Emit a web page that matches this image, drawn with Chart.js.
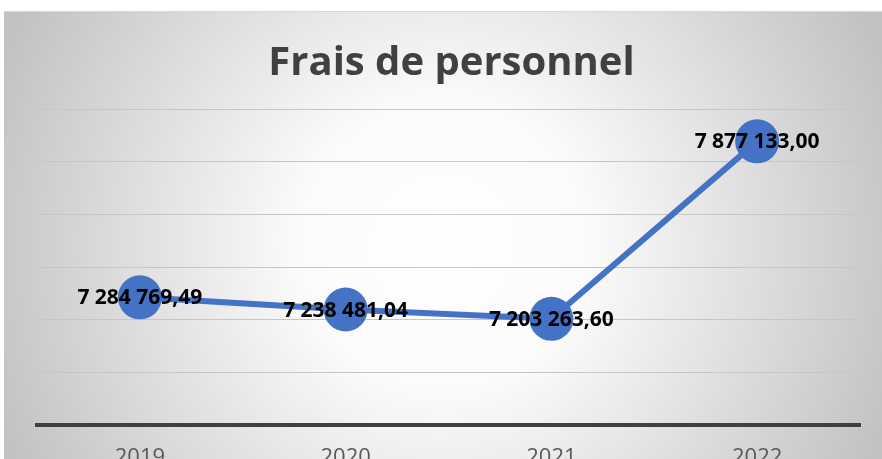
<!DOCTYPE html>
<html lang="fr">
<head>
<meta charset="UTF-8">
<title>Frais de personnel</title>
<script src="https://cdn.jsdelivr.net/npm/chart.js"></script>
<style>
  html, body { margin: 0; padding: 0; background: #fff; overflow: hidden; }
  .cadre { width: 882px; height: 459px; overflow: hidden; }
  canvas { display: block; }
</style>
</head>
<body>
<div class="cadre">
  <canvas id="fraisChart" width="882" height="480"></canvas>
</div>
<script>
const annees = ['2019', '2020', '2021', '2022'];
const frais = [7284769.49, 7238481.04, 7203263.60, 7877133.00];
const axeMin = 6800000;
const axeMax = 8000000;
const axePas = 200000;

// format "7 284 769,49"
function formatFr(v) {
  const parts = v.toFixed(2).split('.');
  const ent = parts[0].replace(/\B(?=(\d{3})+(?!\d))/g, ' ');
  return ent + ',' + parts[1];
}

const fondPlugin = {
  id: 'fond',
  beforeDraw(chart) {
    const ctx = chart.ctx;
    ctx.save();
    ctx.fillStyle = '#ffffff';
    ctx.fillRect(0, 0, chart.width, chart.height);
    const x0 = 4, y0 = 11, w = chart.width - x0, h = chart.height - y0;
    const g = ctx.createRadialGradient(x0 + w / 2, y0 + h / 2, 0, x0 + w / 2, y0 + h / 2, w / 2 + 40);
    g.addColorStop(0, '#ffffff');
    g.addColorStop(0.3, '#fbfbfb');
    g.addColorStop(1, '#c2c2c2');
    ctx.fillStyle = g;
    ctx.fillRect(x0, y0, w, h);
    ctx.fillStyle = '#d8d8d8';
    ctx.fillRect(x0, y0, w, 1);
    ctx.restore();
  }
};

const etiquettesPlugin = {
  id: 'etiquettes',
  afterDatasetsDraw(chart) {
    const ctx = chart.ctx;
    const meta = chart.getDatasetMeta(0);
    ctx.save();
    ctx.font = 'bold 21px "Open Sans", sans-serif';
    ctx.fillStyle = '#000000';
    ctx.textAlign = 'center';
    ctx.textBaseline = 'middle';
    meta.data.forEach((pt, i) => {
      const p = pt.getProps(['x', 'y'], true);
      ctx.fillText(formatFr(frais[i]), p.x, p.y + 1);
    });
    ctx.restore();
  }
};

new Chart(document.getElementById('fraisChart'), {
  type: 'line',
  data: {
    labels: annees,
    datasets: [{
      label: 'Frais de personnel',
      data: frais,
      borderColor: '#4472C4',
      backgroundColor: '#4472C4',
      borderWidth: 6,
      pointRadius: 22,
      pointHoverRadius: 22,
      pointBorderWidth: 0,
      tension: 0,
      clip: false
    }]
  },
  options: {
    responsive: false,
    animation: false,
    layout: { padding: { left: 37, right: 16, top: 0, bottom: 0 } },
    plugins: {
      legend: { display: false },
      tooltip: { enabled: false },
      title: {
        display: true,
        text: 'Frais de personnel',
        color: '#404040',
        font: { family: '"Open Sans", sans-serif', size: 40, weight: 'bold' },
        padding: { top: 40, bottom: 21 }
      }
    },
    scales: {
      x: {
        offset: true,
        afterFit(s) { s.height = 55; },
        grid: { display: false },
        border: { display: true, color: '#404040', width: 4 },
        ticks: {
          color: '#595959',
          padding: 12,
          font: { family: '"Open Sans", sans-serif', size: 22 }
        }
      },
      y: {
        min: axeMin,
        max: axeMax,
        afterFit(s) { s.width = 0; },
        border: { display: false },
        grid: { color: '#c6c6c6', lineWidth: 1, drawTicks: false },
        ticks: { display: false, stepSize: axePas }
      }
    }
  },
  plugins: [fondPlugin, etiquettesPlugin]
});
</script>
</body>
</html>
